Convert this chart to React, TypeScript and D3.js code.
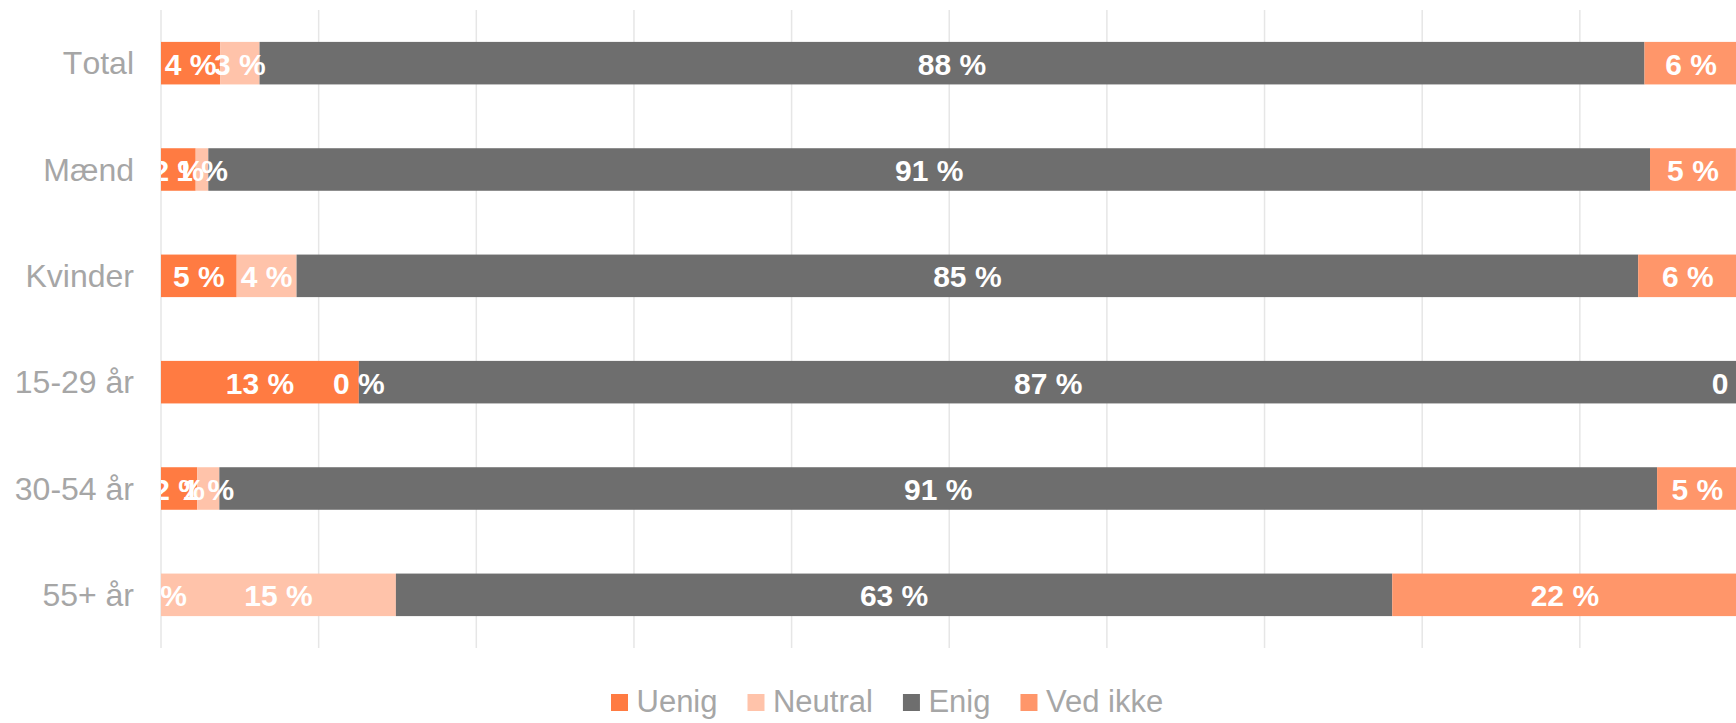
import React, { useEffect, useMemo } from "react";
import * as d3 from "d3";

const categories = ["Total", "Mænd", "Kvinder", "15-29 år", "30-54 år", "55+ år"];
const seriesNames = ["Uenig", "Neutral", "Enig", "Ved ikke"];
const uenig = [3.75, 2.2, 4.8, 12.55, 2.3, 0];
const neutral = [2.5, 0.8, 3.8, 0, 1.4, 14.9];
const enig = [87.85, 91.45, 85.1, 87.45, 91.2, 63.2];
const vedIkke = [5.9, 5.45, 6.3, 0, 5.1, 21.9];
const xTicks = [0, 10, 20, 30, 40, 50, 60, 70, 80, 90, 100];

const colors = ["#FF7B42", "#FFC3AA", "#6E6E6E", "#FF966A"];

const W = 1736;
const H = 723;
const plotLeft = 161;
const plotRight = 1737.5;
const plotTop = 10;
const plotBottom = 648;
const FONT = "'Liberation Sans', Arial, Helvetica, sans-serif";

export default function App() {
  useEffect(() => {
    document.body.style.margin = "0";
    document.body.style.overflow = "hidden";
  }, []);

  const x = d3.scaleLinear().domain([0, 100]).range([plotLeft, plotRight]);
  const y = d3
    .scaleBand<string>()
    .domain(categories)
    .range([plotTop, plotBottom])
    .paddingInner(0.6)
    .paddingOuter(0.3);

  const rows = categories.map((c, i) => ({
    cat: c,
    Uenig: uenig[i],
    Neutral: neutral[i],
    Enig: enig[i],
    "Ved ikke": vedIkke[i],
  }));
  const stacked = d3.stack<any>().keys(seriesNames)(rows);

  const legendFont = 31;
  const legendWidths = useMemo(() => {
    const cv = document.createElement("canvas");
    const ctx = cv.getContext("2d")!;
    ctx.font = `${legendFont}px 'Liberation Sans'`;
    return seriesNames.map((s) => ctx.measureText(s).width);
  }, []);
  const legendItems: { name: string; color: string; x: number }[] = [];
  let cx = 611;
  seriesNames.forEach((s, i) => {
    legendItems.push({ name: s, color: colors[i], x: cx });
    cx += 17 + 8.5 + legendWidths[i] + 30;
  });

  const bw = y.bandwidth();

  return (
    <svg width={W} height={H} style={{ display: "block" }} fontFamily={FONT}>
      <defs>
        <clipPath id="plotclip">
          <rect x={plotLeft} y={0} width={plotRight - plotLeft} height={H} />
        </clipPath>
      </defs>
      <rect x={0} y={0} width={W} height={H} fill="#fff" />
      {xTicks.map((t) => (
        <line
          key={t}
          x1={x(t)}
          x2={x(t)}
          y1={plotTop}
          y2={plotBottom}
          stroke="#E6E6E6"
          strokeWidth={1.5}
        />
      ))}
      {stacked.map((layer, si) => (
        <g key={layer.key}>
          {layer.map((d, ri) => (
            <rect
              key={ri}
              x={x(d[0])}
              y={y(categories[ri])!}
              width={Math.max(0, x(d[1]) - x(d[0]))}
              height={bw}
              fill={colors[si]}
            />
          ))}
        </g>
      ))}
      <g clipPath="url(#plotclip)">
        {stacked.map((layer) => (
          <g key={layer.key}>
            {layer.map((d, ri) => (
              <text
                key={ri}
                x={(x(d[0]) + x(d[1])) / 2}
                y={y(categories[ri])! + bw / 2 + 11.5}
                textAnchor="middle"
                fill="#fff"
                fontWeight="bold"
                fontSize={30}
              >
                {`${Math.round(d[1] - d[0])} %`}
              </text>
            ))}
          </g>
        ))}
      </g>
      {categories.map((c) => (
        <text
          key={c}
          x={134}
          y={y(c)! + bw / 2 + 11}
          textAnchor="end"
          fill="#A6A6A6"
          fontSize={32}
          style={{ fontKerning: "none" }}
        >
          {c}
        </text>
      ))}
      <g>
        {legendItems.map((it) => (
          <g key={it.name}>
            <rect x={it.x} y={694} width={17} height={17} fill={it.color} />
            <text x={it.x + 25.5} y={711.5} fill="#A6A6A6" fontSize={legendFont}>
              {it.name}
            </text>
          </g>
        ))}
      </g>
    </svg>
  );
}
